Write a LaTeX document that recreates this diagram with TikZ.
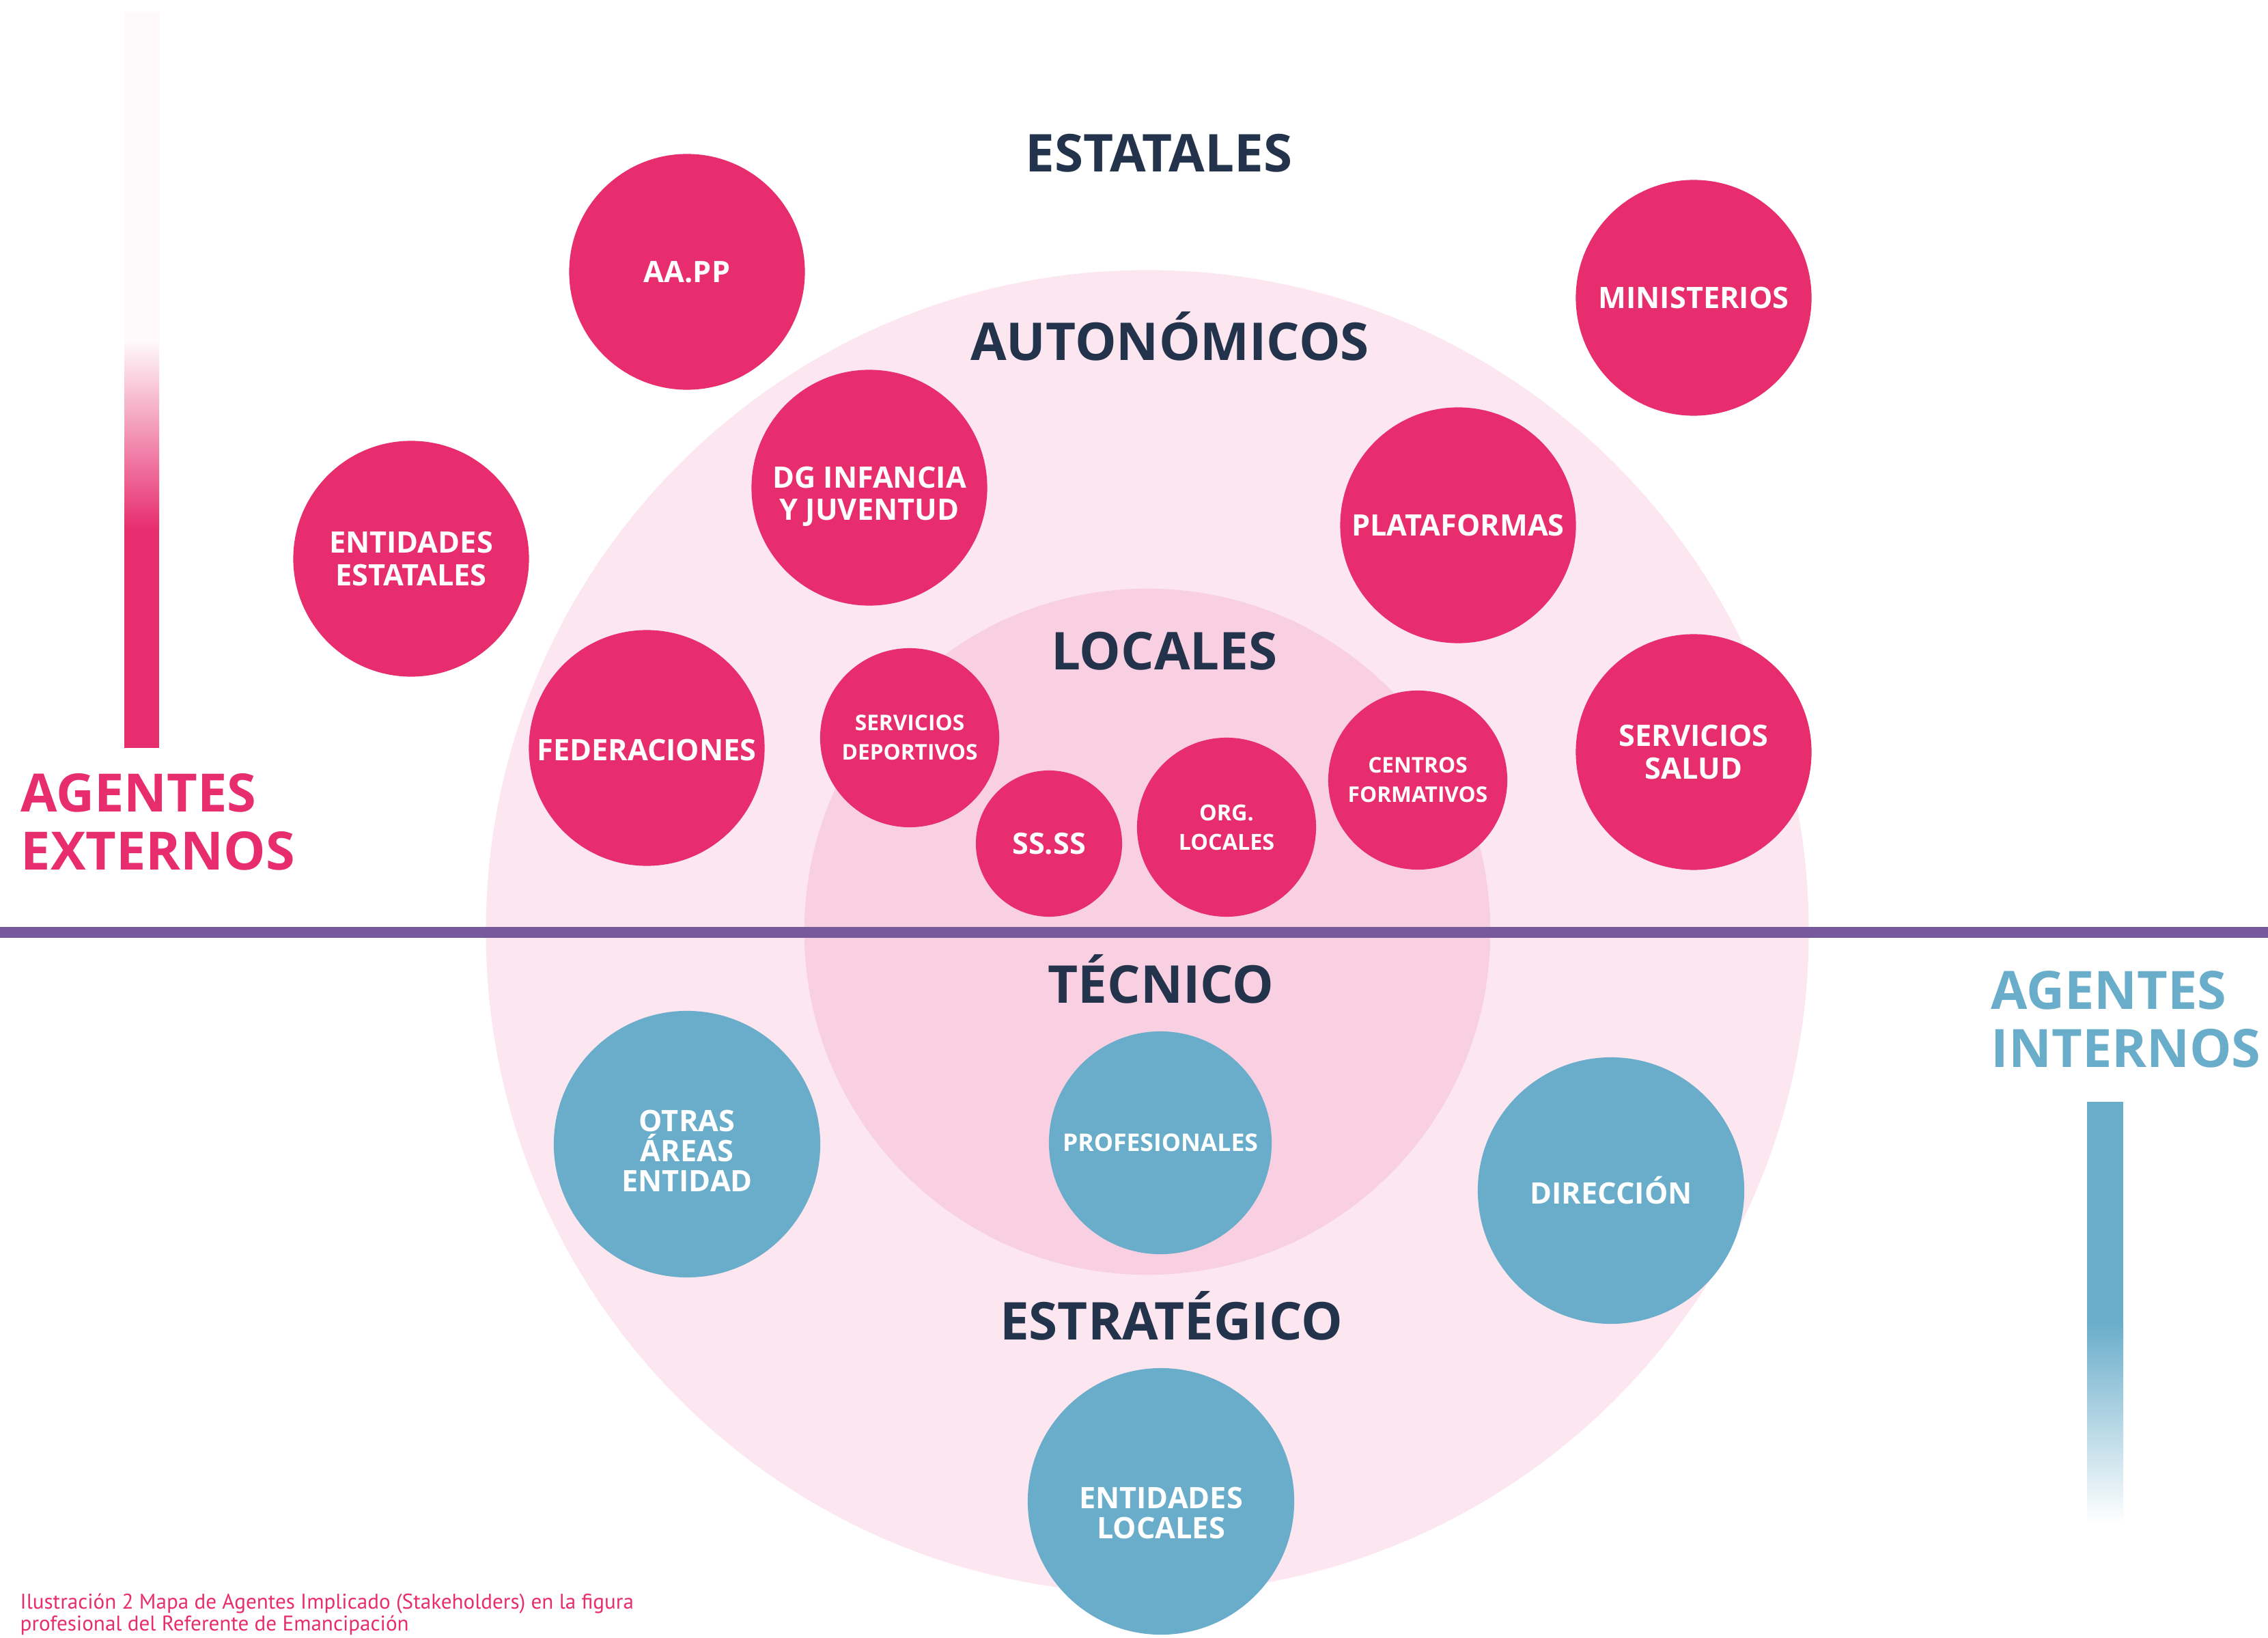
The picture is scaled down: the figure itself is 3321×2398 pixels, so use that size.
\documentclass[tikz,border=0pt]{standalone}
\usepackage{fontspec}
\setmainfont{Open Sans}
\newfontfamily\piefont{PT Sans}
\definecolor{rosa}{HTML}{E72D6E}
\definecolor{azul}{HTML}{69ADCA}
\definecolor{marino}{HTML}{22334B}
\definecolor{morado}{HTML}{765A9B}
\definecolor{rosaclaro}{HTML}{FCE6F0}
\definecolor{rosamedio}{HTML}{F8D0E2}
\tikzset{
  agente/.style={circle, inner sep=0pt, align=center, text=white,
    font=\bfseries\fontsize{12.3}{13.5}\selectfont},
  externo/.style={agente, fill=rosa, minimum size=3.45cm},
  externochico/.style={agente, fill=rosa, minimum size=2.62cm,
    font=\bfseries\fontsize{9}{12.2}\selectfont},
  interno/.style={agente, fill=azul, minimum size=3.9cm,
    font=\bfseries\fontsize{12.3}{12.4}\selectfont},
  nivel/.style={anchor=base, text=marino, font=\bfseries\fontsize{21.7}{26}\selectfont},
  grupo/.style={anchor=west, inner sep=0pt, align=left,
    font=\bfseries\fontsize{22}{24.2}\selectfont},
}
\begin{document}
\begin{tikzpicture}[x=0.01cm, y=-0.01cm]
  \useasboundingbox (0,0) rectangle (3321,2398);

  % circulos de fondo
  \fill[rosaclaro] (1680,1364) circle (9.68cm);
  \fill[rosamedio] (1680,1364) circle (5.02cm);
  \draw[morado, line width=4.5pt] (0,1365) -- (3321,1365);

  % barras laterales
  \fill[rosa!3] (182,17) rectangle (233,500);
  \shade[top color=rosa!3, bottom color=rosa] (182,500) rectangle (233,775);
  \fill[rosa] (182,775) rectangle (233,1095);
  \fill[azul] (3056,1613) rectangle (3109,1934);
  \shade[top color=azul, bottom color=white] (3056,1934) rectangle (3109,2230);

  % niveles
  \node[nivel] (estatales) at (1697,252) {ESTATALES};
  \node[nivel] (autonomicos) at (1713,528) {AUTONÓMICOS};
  \node[nivel] (locales) at (1705,981) {LOCALES};
  \node[nivel] (tecnico) at (1700,1468) {TÉCNICO};
  \node[nivel] (estrategico) at (1715,1961) {ESTRATÉGICO};

  % agentes externos
  \node[externo] (aapp) at (1006,398) {AA.PP};
  \node[externo] (ministerios) at (2480,436) {MINISTERIOS};
  \node[externo] (dginfancia) at (1273,714) {\rule{0pt}{16.2pt}DG INFANCIA\\Y JUVENTUD};
  \node[externo] (entestatales) at (602,818) {ENTIDADES\\ESTATALES};
  \node[externo] (plataformas) at (2135,769) {PLATAFORMAS};
  \node[externo] (federaciones) at (947,1095) {\rule{0pt}{10.5pt}FEDERACIONES};
  \node[externo] (servsalud) at (2480,1101) {SERVICIOS\\SALUD};
  \node[externochico] (servdep) at (1332,1080) {SERVICIOS\\DEPORTIVOS};
  \node[externochico, minimum size=2.14cm,
    font=\bfseries\fontsize{12.3}{13.5}\selectfont] (ssss) at (1536,1235) {SS.SS};
  \node[externochico, font=\bfseries\fontsize{9.2}{12.2}\selectfont] (orglocales) at (1796,1211) {ORG.\\LOCALES};
  \node[externochico] (centros) at (2076,1142) {CENTROS\\FORMATIVOS};

  % agentes internos
  \node[interno] (otras) at (1006,1675) {\rule{0pt}{14.5pt}OTRAS\\ÁREAS\\ENTIDAD};
  \node[interno, minimum size=3.26cm,
    font=\bfseries\fontsize{10.1}{12}\selectfont] (profesionales) at (1699,1673) {PROFESIONALES};
  \node[interno] (direccion) at (2359,1743) {DIRECCIÓN};
  \node[interno] (entlocales) at (1700,2198) {\rule{0pt}{18.5pt}ENTIDADES\\LOCALES};

  % rotulos
  \node[grupo, text=rosa] (agext) at (30,1203) {AGENTES\\EXTERNOS};
  \node[grupo, text=azul] (agint) at (2915,1492) {AGENTES\\INTERNOS};
  \node[anchor=west, inner sep=0pt, align=left, text=rosa,
    font=\piefont\fontsize{8.85}{9.1}\selectfont] (pie) at (29,2363)
    {Ilustración 2 Mapa de Agentes Implicado (Stakeholders) en la figura\\profesional del Referente de Emancipación};
\end{tikzpicture}
\end{document}
